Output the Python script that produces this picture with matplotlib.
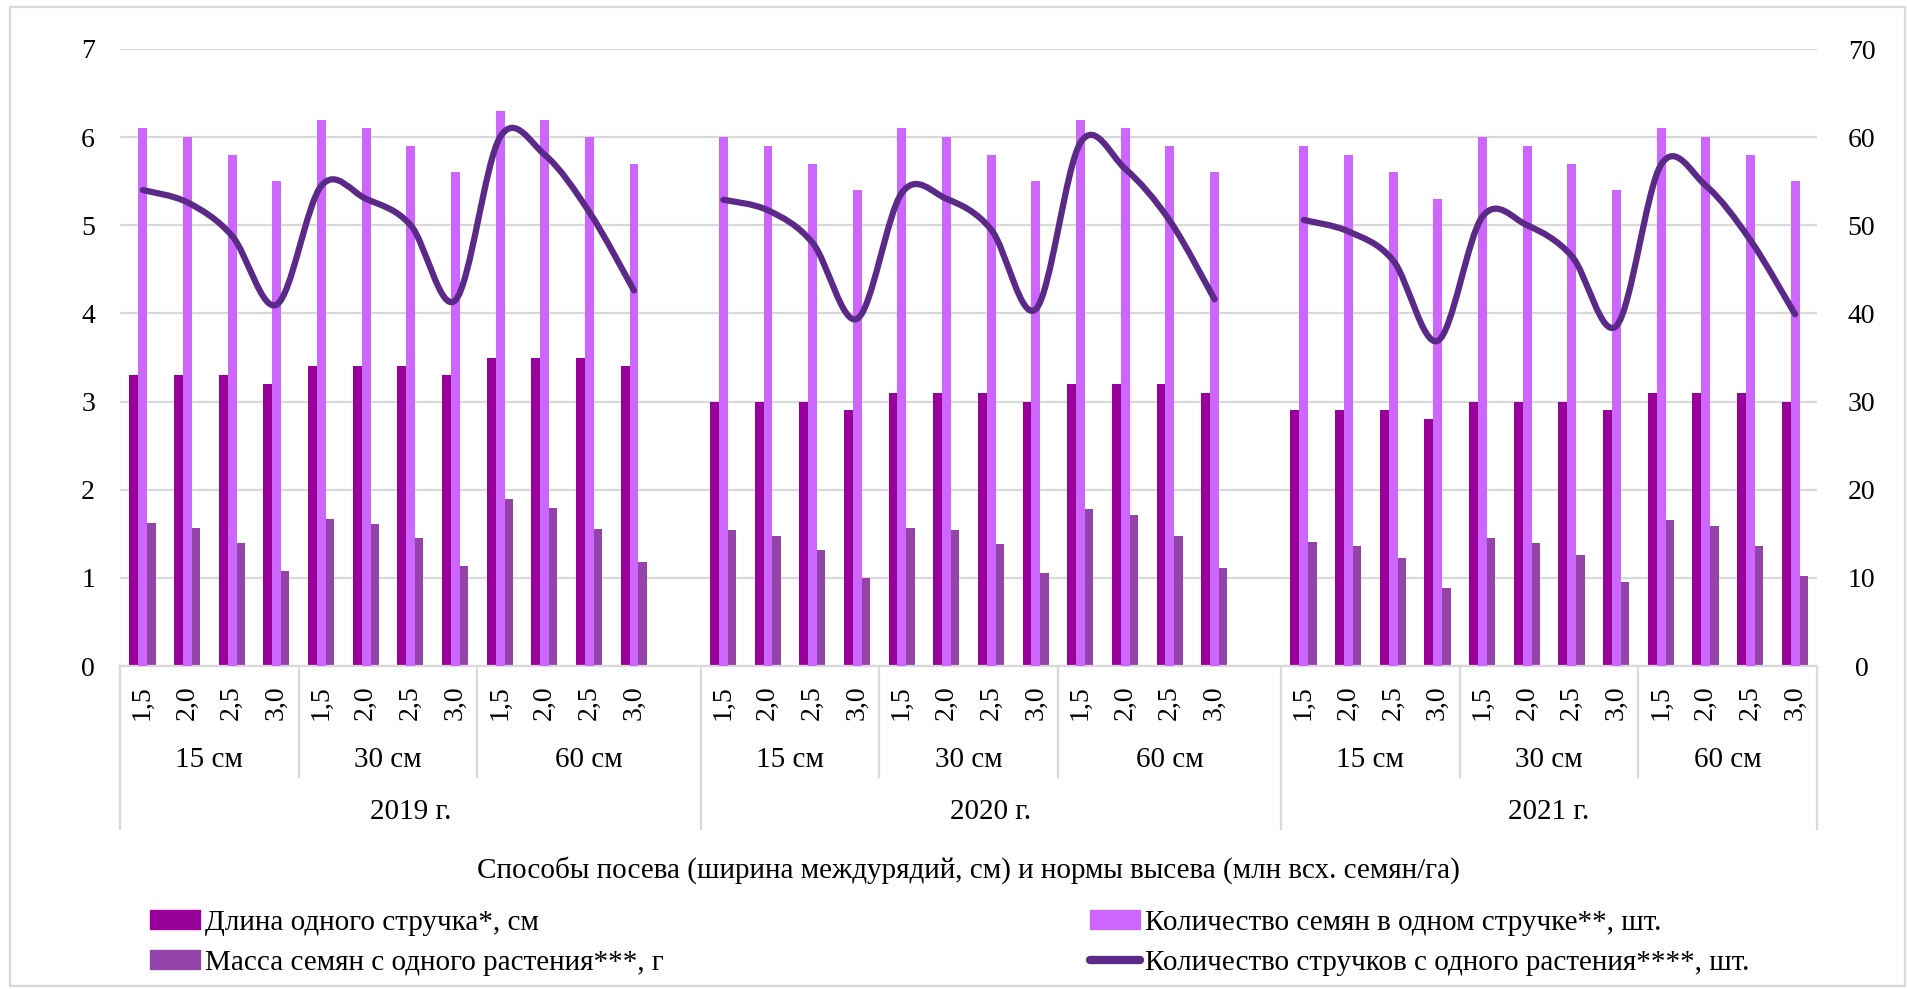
import numpy as np
import matplotlib.pyplot as plt
from matplotlib.path import Path
from matplotlib.patches import PathPatch, Rectangle
from matplotlib.lines import Line2D

plt.rcParams['font.family'] = ['Liberation Serif', 'DejaVu Serif']

years = ["2019 г.", "2020 г.", "2021 г."]
spacings = ["15 см", "30 см", "60 см"]
rates = ["1,5", "2,0", "2,5", "3,0"]

# длина одного стручка, см (левая ось)
pod_length = [3.3, 3.3, 3.3, 3.2, 3.4, 3.4, 3.4, 3.3, 3.5, 3.5, 3.5, 3.4,
              3.0, 3.0, 3.0, 2.9, 3.1, 3.1, 3.1, 3.0, 3.2, 3.2, 3.2, 3.1,
              2.9, 2.9, 2.9, 2.8, 3.0, 3.0, 3.0, 2.9, 3.1, 3.1, 3.1, 3.0]
# количество семян в одном стручке, шт. (правая ось)
seeds_per_pod = [61, 60, 58, 55, 62, 61, 59, 56, 63, 62, 60, 57,
                 60, 59, 57, 54, 61, 60, 58, 55, 62, 61, 59, 56,
                 59, 58, 56, 53, 60, 59, 57, 54, 61, 60, 58, 55]
# масса семян с одного растения, г (левая ось)
seed_mass = [1.62, 1.56, 1.40, 1.08, 1.67, 1.61, 1.45, 1.13, 1.89, 1.79, 1.55, 1.18,
             1.54, 1.48, 1.32, 1.00, 1.57, 1.54, 1.38, 1.05, 1.78, 1.71, 1.47, 1.11,
             1.41, 1.36, 1.22, 0.89, 1.45, 1.40, 1.26, 0.95, 1.66, 1.59, 1.36, 1.02]
# количество стручков с одного растения, шт. (правая ось)
pods_per_plant = [54.0, 52.6, 48.8, 41.0, 54.5, 53.0, 50.0, 41.5, 60.0, 58.0, 51.5, 42.6,
                  52.9, 51.7, 48.0, 39.4, 53.7, 53.0, 49.5, 40.5, 59.4, 56.4, 50.5, 41.6,
                  50.6, 49.3, 46.0, 36.9, 51.0, 50.0, 46.5, 38.6, 56.9, 54.5, 48.3, 39.9]

labels = ["Длина одного стручка*, см",
          "Количество семян в одном стручке**, шт.",
          "Масса семян с одного растения***, г",
          "Количество стручков с одного растения****, шт."]
c_len, c_seeds, c_mass, c_line = "#990099", "#cc66ff", "#9444a8", "#5b2a88"
grid_c = "#d9d9d9"

# x positions: 13 slots per year (last one empty)
x = np.array([13 * y + 4 * s + r for y in range(3) for s in range(3) for r in range(4)], dtype=float)

fig = plt.figure(figsize=(19.08, 9.89), dpi=100)
W, H = 1908, 989
ax = fig.add_axes([120 / W, 1 - 666 / H, (1817 - 120) / W, (666 - 49) / H])
ax2 = ax.twinx()

ax.bar(x - 0.19, pod_length, width=0.2, color=c_len, zorder=2)
ax.bar(x + 0.2, seed_mass, width=0.19, color=c_mass, zorder=2)
ax2.bar(x + 0.01, seeds_per_pod, width=0.2, color=c_seeds, zorder=2)


def smooth_path(xs, ys):
    pts = np.column_stack([xs, ys])
    n = len(pts)
    verts, codes = [pts[0]], [Path.MOVETO]
    for i in range(n - 1):
        p0, p1 = pts[max(i - 1, 0)], pts[i]
        p2, p3 = pts[i + 1], pts[min(i + 2, n - 1)]
        verts += [p1 + (p2 - p0) / 6, p2 - (p3 - p1) / 6, p2]
        codes += [Path.CURVE4] * 3
    return Path(verts, codes)


pods = np.array(pods_per_plant)
for y in range(3):
    sl = slice(12 * y, 12 * y + 12)
    ax2.add_patch(PathPatch(smooth_path(x[sl] + 0.01, pods[sl]), fill=False,
                            edgecolor=c_line, lw=4.5, capstyle='round', zorder=4))

ax.set_xlim(-0.5, 37.5)
ax.set_ylim(0, 7)
ax2.set_ylim(0, 70)
ax.set_yticks(range(8))
ax2.set_yticks(range(0, 71, 10))
ax.yaxis.grid(True, color=grid_c, lw=1.6)
ax.set_axisbelow(True)
for a in (ax, ax2):
    for sp in a.spines.values():
        sp.set_visible(False)
ax.spines['bottom'].set_visible(True)
ax.spines['bottom'].set_color(grid_c)
ax.spines['bottom'].set_linewidth(1.6)
ax.tick_params(axis='y', length=0, pad=18, labelsize=20)
ax2.tick_params(axis='y', length=0, pad=32, labelsize=20)
for lbl in ax2.get_yticklabels():
    lbl.set_ha('center')

ax.set_xticks(x)
ax.set_xticklabels(rates * 9, rotation=90)
ax.tick_params(axis='x', length=0, pad=14, labelsize=20)

tr = ax.get_xaxis_transform()
axh = 666 - 49
sub_y = -(760 - 666) / axh
year_y = -(812 - 666) / axh
sub_end = -(777 - 666) / axh
year_end = -(829 - 666) / axh
for y in range(3):
    base = 13 * y
    centers = [base + 1.5, base + 5.5, base + 10 if y < 2 else base + 9.5]
    for s in range(3):
        ax.text(centers[s], sub_y, spacings[s], transform=tr, ha='center', va='center', fontsize=21)
    for b in (base + 3.5, base + 7.5):
        ax.plot([b, b], [0, sub_end], transform=tr, color=grid_c, lw=1.6, clip_on=False)
    yc = base + 6 if y < 2 else base + 5.5
    ax.text(yc, year_y, years[y], transform=tr, ha='center', va='center', fontsize=21)
for b in (-0.5, 12.5, 25.5, 37.5):
    ax.plot([b, b], [0, year_end], transform=tr, color=grid_c, lw=1.6, clip_on=False)

ax.text(0.5, -(870 - 666) / axh, "Способы посева (ширина междурядий, см) и нормы высева (млн всх. семян/га)",
        transform=ax.transAxes, ha='center', va='center', fontsize=21)

handles = [Rectangle((0, 0), 1, 1, color=c_len), Rectangle((0, 0), 1, 1, color=c_mass),
           Rectangle((0, 0), 1, 1, color=c_seeds),
           Line2D([], [], color=c_line, lw=6, solid_capstyle='round')]
fig.legend(handles, [labels[0], labels[2], labels[1], labels[3]], ncol=2, loc='upper left',
           bbox_to_anchor=(150 / W, 1 - 910 / H), frameon=False, fontsize=21,
           handlelength=1.7, handleheight=0.6, handletextpad=0.2, columnspacing=14.6,
           labelspacing=0.48, borderpad=0, borderaxespad=0)

fig.patches.append(Rectangle((10 / W, 3 / H), 1895 / W, 979 / H, transform=fig.transFigure,
                             fill=False, edgecolor=grid_c, lw=1.6))

fig.savefig("out.png", dpi=100)
